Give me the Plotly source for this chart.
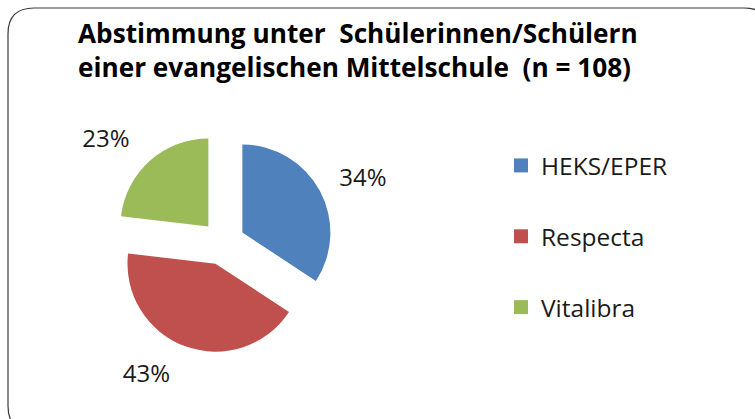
import plotly.graph_objects as go

W, H = 755, 419

title_lines = ["Abstimmung unter  Schülerinnen/Schülern", "einer evangelischen Mittelschule  (n = 108)"]
categories = ["HEKS/EPER", "Respecta", "Vitalibra"]
votes = [37, 46, 25]
colors = ["#4F81BD", "#C0504D", "#9BBB59"]

FONT = "Open Sans"

def px(x):
    return x / W

def py(y):
    return 1 - y / H

fig = go.Figure()

# exploded pie (slices only)
fig.add_trace(go.Pie(
    labels=categories,
    values=votes,
    marker=dict(colors=colors, line=dict(width=0)),
    sort=False,
    direction="clockwise",
    rotation=0,
    pull=[0.25, 0.25, 0.25],
    textinfo="none",
    showlegend=False,
    hoverinfo="label+percent",
    domain=dict(x=[px(113), px(333)], y=[py(353), py(133)]),
))

# same data, transparent, larger radius: carries the percentage labels further out
fig.add_trace(go.Pie(
    labels=categories,
    values=votes,
    marker=dict(colors=["rgba(0,0,0,0)"] * len(categories), line=dict(width=0)),
    sort=False,
    direction="clockwise",
    rotation=0,
    texttemplate="%{percent:.0%}",
    textposition="outside",
    textfont=dict(family=FONT, size=24, color="#1a1a1a"),
    showlegend=False,
    hoverinfo="skip",
    domain=dict(x=[px(96), px(346)], y=[py(365), py(115)]),
))

for cat, col in zip(categories, colors):
    fig.add_trace(go.Scatter(
        x=[None], y=[None], mode="markers", name=cat,
        marker=dict(symbol="square", size=14, color=col),
        legendgroup=cat, showlegend=True, hoverinfo="skip",
    ))

# rounded border
x0, y0, x1, y1, r = 8, 8, 770, 432, 26
path = (f"M {px(x0+r)},{py(y0)} L {px(x1-r)},{py(y0)} Q {px(x1)},{py(y0)} {px(x1)},{py(y0+r)} "
        f"L {px(x1)},{py(y1-r)} Q {px(x1)},{py(y1)} {px(x1-r)},{py(y1)} "
        f"L {px(x0+r)},{py(y1)} Q {px(x0)},{py(y1)} {px(x0)},{py(y1-r)} "
        f"L {px(x0)},{py(y0+r)} Q {px(x0)},{py(y0)} {px(x0+r)},{py(y0)} Z")
fig.add_shape(type="path", path=path, xref="paper", yref="paper",
              line=dict(color="#3a3a3a", width=1.2))

fig.add_annotation(
    text="<b>" + "<br>".join(title_lines) + "</b>",
    x=px(76), y=py(13), xref="paper", yref="paper",
    xanchor="left", yanchor="top", align="left", showarrow=False,
    font=dict(family=FONT, size=26.2, color="#000000"),
)

fig.update_layout(
    width=W, height=H,
    margin=dict(l=0, r=0, t=0, b=0),
    paper_bgcolor="white", plot_bgcolor="white",
    xaxis=dict(visible=False), yaxis=dict(visible=False),
    legend=dict(x=px(501), y=py(143), xanchor="left", yanchor="top",
                font=dict(family=FONT, size=24.5, color="#1a1a1a"),
                tracegroupgap=36, itemwidth=30, bgcolor="rgba(0,0,0,0)"),
    showlegend=True,
)

fig.write_html("out.html", config={"displayModeBar": False},
               post_script="document.body.style.margin='0';")
